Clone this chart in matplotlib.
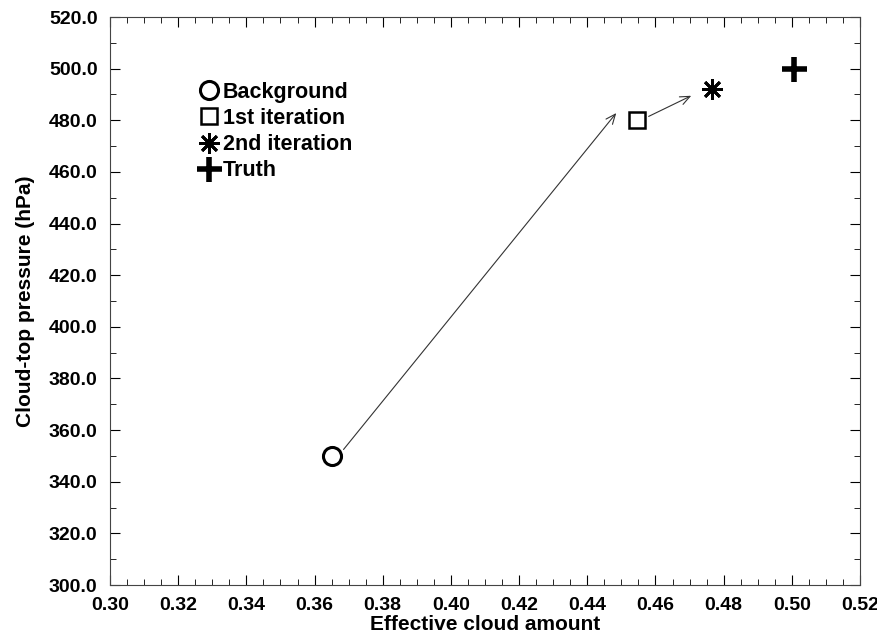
import numpy as np
import matplotlib
matplotlib.use("Agg")
import matplotlib.pyplot as plt
from matplotlib.ticker import MultipleLocator, FormatStrFormatter

plt.rcParams['font.family'] = ['Liberation Sans', 'DejaVu Sans']
plt.rcParams['font.weight'] = 'bold'

# retrieval steps: effective cloud amount vs cloud-top pressure
labels = ['Background', '1st iteration', '2nd iteration', 'Truth']
cloud_amount = [0.365, 0.4545, 0.4765, 0.5005]
cloud_pressure = [350.0, 480.0, 492.0, 500.0]

fig = plt.figure(figsize=(8.78, 6.37), dpi=100)
ax = fig.add_axes([0.1253, 0.0816, 0.8542, 0.8917])

handles = []
# background
h, = ax.plot(cloud_amount[0], cloud_pressure[0], 'o', ms=13, mfc='white', mec='black', mew=2.2)
handles.append(h)
# 1st iteration
h, = ax.plot(cloud_amount[1], cloud_pressure[1], 's', ms=12, mfc='white', mec='black', mew=1.8)
handles.append(h)
# 2nd iteration
h, = ax.plot(cloud_amount[2], cloud_pressure[2], marker=(8, 2, 0), ls='none', ms=15, mec='black', mew=2.0)
handles.append(h)
# truth
h, = ax.plot(cloud_amount[3], cloud_pressure[3], '+', ms=18, mec='black', mew=4)
handles.append(h)

# arrows between successive estimates (tail offset, head offset)
arrow_start = [(0.0035, 2.5), (0.0035, 1.5)]
arrow_end = [(-0.006, 2.8), (-0.006, -2.5)]
for i in range(2):
    x0 = cloud_amount[i] + arrow_start[i][0]
    y0 = cloud_pressure[i] + arrow_start[i][1]
    x1 = cloud_amount[i + 1] + arrow_end[i][0]
    y1 = cloud_pressure[i + 1] + arrow_end[i][1]
    ax.annotate('', xy=(x1, y1), xytext=(x0, y0),
                arrowprops=dict(arrowstyle='->,head_length=0.7,head_width=0.3',
                                lw=0.8, color='#333333', shrinkA=0, shrinkB=0))

leg = ax.legend(handles, labels, loc='upper left', bbox_to_anchor=(0.117, 0.886),
                frameon=False, handlelength=1.0, handletextpad=0.15,
                labelspacing=0.24, borderaxespad=0, borderpad=0,
                prop={'size': 15.5, 'weight': 'bold'})

ax.set_xlim(0.30, 0.52)
ax.set_ylim(300, 520)
ax.xaxis.set_major_locator(MultipleLocator(0.02))
ax.xaxis.set_minor_locator(MultipleLocator(0.005))
ax.yaxis.set_major_locator(MultipleLocator(20))
ax.yaxis.set_minor_locator(MultipleLocator(10))
ax.xaxis.set_major_formatter(FormatStrFormatter('%.2f'))
ax.yaxis.set_major_formatter(FormatStrFormatter('%.1f'))
ax.tick_params(which='both', direction='in', top=True, right=True, labelsize=14)
ax.tick_params(axis='y', which='major', pad=9)
ax.tick_params(axis='x', which='major', pad=8.5)
ax.tick_params(which='major', length=7, width=0.8)
ax.tick_params(which='minor', length=4, width=0.6)
for lab in ax.get_xticklabels() + ax.get_yticklabels():
    lab.set_fontweight('bold')
for s in ax.spines.values():
    s.set_linewidth(0.8)
    s.set_color('#444444')

ax.set_xlabel('Effective cloud amount', fontsize=15, fontweight='bold', labelpad=1)
ax.set_ylabel('Cloud-top pressure (hPa)', fontsize=15, fontweight='bold', labelpad=10)

fig.savefig('out.png', dpi=100)
